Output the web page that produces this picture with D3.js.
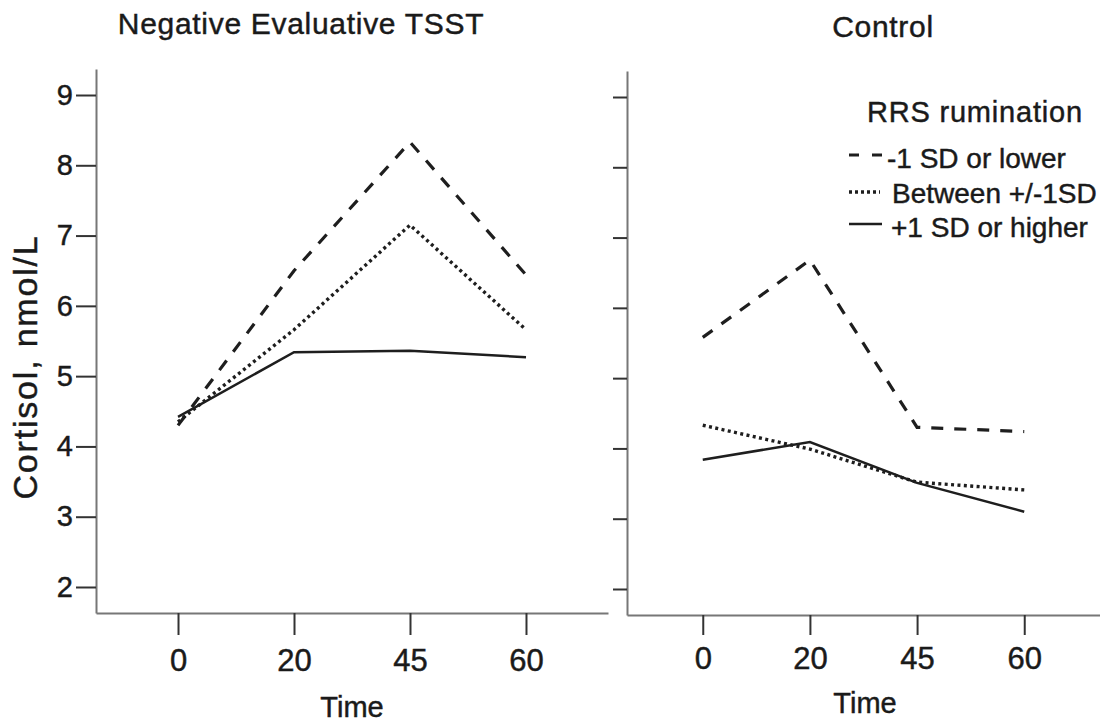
<!DOCTYPE html>
<html>
<head>
<meta charset="utf-8">
<script src="https://cdn.jsdelivr.net/npm/d3@7"></script>
<style>
  body { margin: 0; background: #fff; }
  svg text { font-family: "Liberation Sans", Arial, sans-serif; fill: #1a1a1a; stroke: #1a1a1a; stroke-width: 0.45px; }
</style>
</head>
<body>
<script>
var times = ["0", "20", "45", "60"];
var seriesNames = ["-1 SD or lower", "Between +/-1SD", "+1 SD or higher"];
var yTicks = [2, 3, 4, 5, 6, 7, 8, 9];

var tsstLow  = [4.30, 6.50, 8.33, 6.44];
var tsstMid  = [4.35, 5.66, 7.15, 5.66];
var tsstHigh = [4.42, 5.34, 5.36, 5.27];

var ctrlLow  = [5.58, 6.68, 4.30, 4.24];
var ctrlMid  = [4.33, 3.99, 3.52, 3.41];
var ctrlHigh = [3.84, 4.09, 3.51, 3.10];

var panelTitles = ["Negative Evaluative TSST", "Control"];

var dashes = ["12,11", "3,3.4", null];
var widths = [3.2, 3.4, 2.5];

var svg = d3.select("body").append("svg")
    .attr("width", 1100)
    .attr("height", 725);

var panels = [
  { title: panelTitles[0], x0: 96, x1: 608, y0: 613, y1: 69, tick: 20, labels: true,
    data: [tsstLow, tsstMid, tsstHigh], titleX: 301, titleY: 34, tickLabelY: 671, timeX: 352, timeY: 717 },
  { title: panelTitles[1], x0: 627, x1: 1100, y0: 615, y1: 71, tick: 14, labels: false,
    data: [ctrlLow, ctrlMid, ctrlHigh], titleX: 883, titleY: 37, tickLabelY: 669, timeX: 865, timeY: 713 }
];

panels.forEach(function(p) {
  var x = d3.scalePoint().domain(times).range([p.x0, p.x1]).padding(0.707);
  var y = d3.scaleLinear().domain([1.63, 9.37]).range([p.y0, p.y1]);

  // y axis
  var yAxis = d3.axisLeft(y).tickValues(yTicks).tickSize(p.tick).tickSizeOuter(0)
      .tickFormat(p.labels ? d3.format("d") : function() { return ""; });
  var gy = svg.append("g").attr("transform", "translate(" + p.x0 + ",0)").call(yAxis);
  gy.select(".domain").attr("stroke", "#777").attr("stroke-width", 2);
  gy.selectAll(".tick line").attr("stroke", "#333").attr("stroke-width", 2);
  gy.selectAll(".tick text").attr("font-size", "29px").attr("x", -p.tick - 3)
      .attr("fill", "#1a1a1a");

  // x axis
  var xAxis = d3.axisBottom(x).tickSize(p.tick === 20 ? 22 : 20).tickSizeOuter(0);
  var gx = svg.append("g").attr("transform", "translate(0," + p.y0 + ")").call(xAxis);
  gx.select(".domain").attr("stroke", "#777").attr("stroke-width", 2);
  gx.selectAll(".tick line").attr("stroke", "#333").attr("stroke-width", 2);
  gx.selectAll(".tick text").attr("font-size", "31px").attr("y", null).attr("dy", null)
      .attr("transform", "translate(0," + (p.tickLabelY - p.y0) + ")")
      .attr("fill", "#1a1a1a");

  // lines
  var line = d3.line()
      .x(function(d, i) { return x(times[i]); })
      .y(function(d) { return y(d); });

  p.data.forEach(function(vals, k) {
    svg.append("path")
      .datum(vals)
      .attr("d", line)
      .attr("fill", "none")
      .attr("stroke", "#1e1e1e")
      .attr("stroke-width", widths[k])
      .attr("stroke-dasharray", dashes[k]);
  });

  svg.append("text")
    .attr("x", p.titleX).attr("y", p.titleY)
    .attr("text-anchor", "middle")
    .attr("font-size", "30px")
    .attr("letter-spacing", "0.7px")
    .text(p.title);

  svg.append("text")
    .attr("x", p.timeX).attr("y", p.timeY)
    .attr("text-anchor", "middle")
    .attr("font-size", "29px")
    .text("Time");
});

// y label
svg.append("text")
  .attr("transform", "translate(37,367) rotate(-90)")
  .attr("text-anchor", "middle")
  .attr("font-size", "34px")
  .attr("letter-spacing", "1.8px")
  .text("Cortisol, nmol/L");

// legend
var legend = svg.append("g");
legend.append("text")
  .attr("x", 867).attr("y", 122)
  .attr("font-size", "29px")
  .attr("letter-spacing", "0.8px")
  .text("RRS rumination");

var legY = [155, 192, 224];
var legTextY = [168, 203, 237];
var legTextX = [887, 892, 891];
var legLineEnd = [887, 880, 882];
var legDash = ["10,13", "3,3", null];

seriesNames.forEach(function(name, k) {
  legend.append("line")
    .attr("x1", 849).attr("x2", legLineEnd[k])
    .attr("y1", legY[k]).attr("y2", legY[k])
    .attr("stroke", "#1e1e1e")
    .attr("stroke-width", widths[k])
    .attr("stroke-dasharray", legDash[k]);
  legend.append("text")
    .attr("x", legTextX[k]).attr("y", legTextY[k])
    .attr("font-size", "28px")
    .text(name);
});
</script>
</body>
</html>
